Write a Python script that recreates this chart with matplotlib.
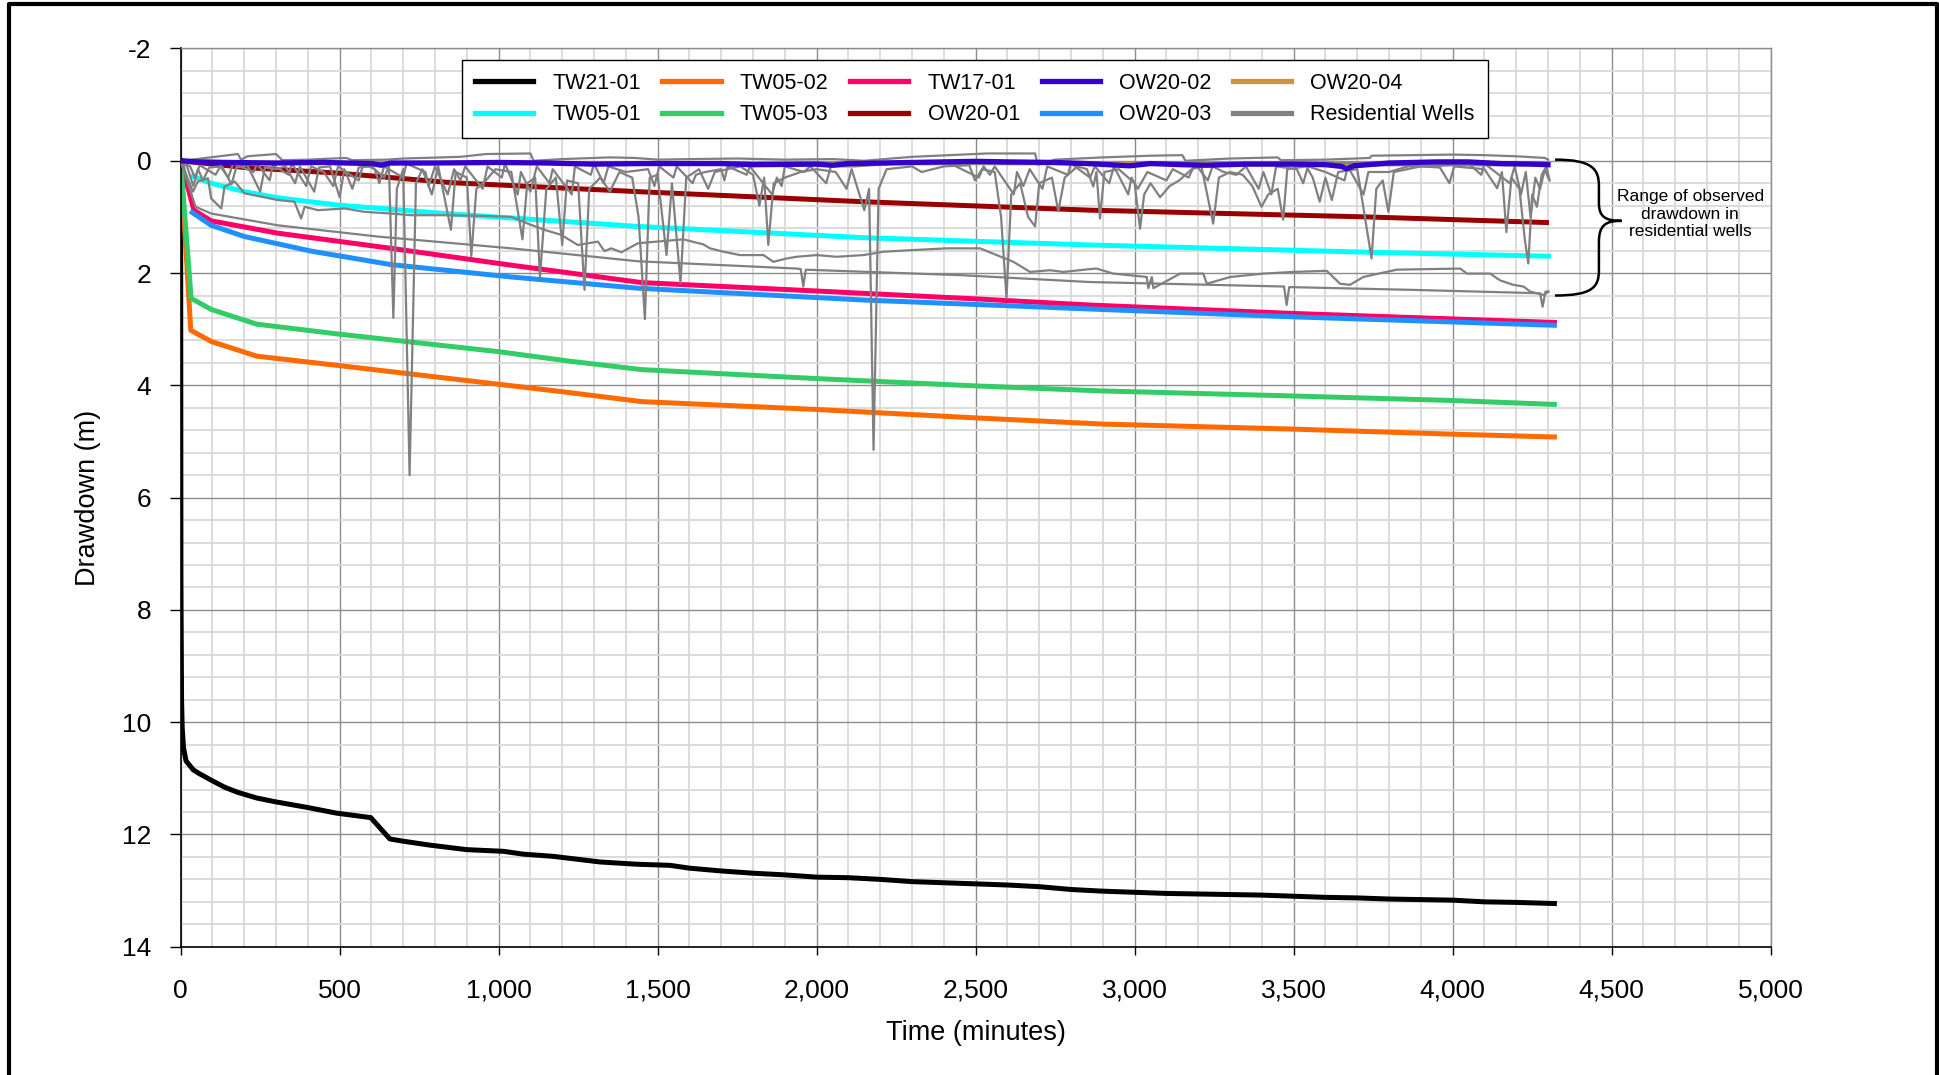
import numpy as np
import matplotlib
matplotlib.use("Agg")
import matplotlib.pyplot as plt
from matplotlib.lines import Line2D
from matplotlib.path import Path
from matplotlib.patches import PathPatch
from matplotlib.ticker import FuncFormatter, MultipleLocator

plt.rcParams["font.family"] = ["Liberation Sans", "DejaVu Sans"]

# ---------------- pumping test drawdown data (time in minutes, drawdown in m) ----------------
tw21_01_t = [0, 1, 3, 5, 9, 17, 40, 60, 92, 139, 180, 239, 300, 400, 490, 598, 658, 700, 784, 899,
             1015, 1077, 1172, 1319, 1434, 1539, 1600, 1700, 1800, 1900, 2000, 2100, 2200, 2300, 2400,
             2500, 2600, 2700, 2800, 2900, 3000, 3100, 3200, 3300, 3400, 3500, 3600, 3700, 3800, 3900,
             4000, 4100, 4200, 4320]
tw21_01_dd = [0, 7.5, 9.6, 10.1, 10.45, 10.69, 10.85, 10.92, 11.02, 11.16, 11.25, 11.35, 11.42, 11.52,
              11.62, 11.70, 12.08, 12.12, 12.19, 12.27, 12.30, 12.35, 12.39, 12.49, 12.53, 12.55, 12.60,
              12.65, 12.69, 12.72, 12.76, 12.77, 12.80, 12.84, 12.86, 12.88, 12.90, 12.93, 12.98, 13.01,
              13.03, 13.05, 13.06, 13.07, 13.08, 13.10, 13.12, 13.13, 13.15, 13.16, 13.17, 13.20, 13.21,
              13.23]

tw05_02_t = [0, 32, 97, 239, 501, 999, 1224, 1450, 2000, 2500, 2900, 3500, 4000, 4320]
tw05_02_dd = [0, 3.02, 3.22, 3.48, 3.65, 3.98, 4.13, 4.29, 4.43, 4.58, 4.69, 4.78, 4.87, 4.92]

tw05_03_t = [0, 33, 97, 239, 501, 999, 1224, 1450, 2000, 2500, 2900, 3500, 4000, 4320]
tw05_03_dd = [0, 2.45, 2.65, 2.91, 3.09, 3.40, 3.57, 3.72, 3.88, 4.01, 4.10, 4.19, 4.27, 4.34]

tw17_01_t = [0, 42, 96, 306, 662, 1040, 1450, 2000, 2500, 2860, 3500, 4320]
tw17_01_dd = [0, 0.88, 1.07, 1.29, 1.56, 1.86, 2.17, 2.32, 2.46, 2.57, 2.72, 2.88]

ow20_03_t = [36, 96, 201, 411, 662, 1040, 1438, 2147, 2859, 3500, 4320]
ow20_03_dd = [0.92, 1.15, 1.35, 1.61, 1.85, 2.07, 2.27, 2.48, 2.64, 2.78, 2.93]

tw05_01_t = [39, 96, 201, 306, 495, 830, 1438, 2147, 2859, 3740, 4301]
tw05_01_dd = [0.28, 0.40, 0.55, 0.66, 0.79, 0.94, 1.17, 1.37, 1.50, 1.63, 1.70]

ow20_01_t = [0, 201, 495, 851, 1438, 2147, 2859, 3729, 4295]
ow20_01_dd = [0, 0.12, 0.22, 0.39, 0.55, 0.73, 0.88, 1.00, 1.10]

ow20_02_t = [0, 50, 150, 300, 450, 600, 631, 660, 800, 1000, 1150, 1300, 1450, 1550, 1700, 1800, 2000,
             2050, 2100, 2300, 2500, 2600, 2750, 2850, 2985, 3050, 3150, 3227, 3350, 3500, 3600, 3650,
             3667, 3690, 3800, 3950, 4050, 4150, 4250, 4300]
ow20_02_dd = [0, 0.02, 0.03, 0.04, 0.03, 0.05, 0.08, 0.04, 0.04, 0.03, 0.04, 0.06, 0.05, 0.05, 0.05,
              0.07, 0.06, 0.08, 0.05, 0.03, 0.01, 0.02, 0.03, 0.05, 0.09, 0.05, 0.07, 0.08, 0.06, 0.06,
              0.07, 0.10, 0.14, 0.09, 0.04, 0.02, 0.02, 0.05, 0.06, 0.07]

ow20_04_t = [0, 300, 600, 1000, 1450, 2000, 2500, 2850, 3050, 3350, 3800, 4050, 4300]
ow20_04_dd = [0, 0.04, 0.05, 0.03, 0.05, 0.06, 0.01, 0.05, 0.05, 0.06, 0.04, 0.02, 0.07]

# ---------------- residential wells ----------------
rw_a_t = [0, 50, 180, 190, 210, 300, 320, 400, 520, 540, 650, 700, 880, 960, 1100, 1110, 1200, 1350,
          1430, 1500, 1600, 1750, 1900, 2050, 2150, 2300, 2535, 2687, 2695, 2750, 2900, 3050, 3150,
          3160, 3300, 3450, 3460, 3600, 3740, 3745, 4000, 4100, 4200, 4290, 4300]
rw_a_dd = [0, -0.03, -0.12, -0.02, -0.08, -0.12, -0.01, -0.02, -0.05, -0.01, -0.02, -0.04, -0.07,
           -0.12, -0.13, 0.0, -0.03, -0.06, -0.05, -0.02, -0.03, -0.04, -0.02, -0.03, 0.0, -0.07,
           -0.13, -0.13, 0.07, -0.02, -0.06, -0.09, -0.10, 0.0, -0.04, -0.06, -0.01, -0.02, -0.05,
           -0.09, -0.11, -0.10, -0.08, -0.05, -0.02]

rw_b_t = [0, 20, 40, 55, 70, 90, 130, 160, 175, 210, 250, 265, 300, 330, 360, 375, 420, 435, 470, 500,
          515, 540, 560, 600, 640, 655, 669, 680, 700, 720, 740, 760, 790, 810, 850, 865, 900, 914, 930,
          960, 990, 1040, 1075, 1090, 1115, 1130, 1150, 1180, 1200, 1215, 1250, 1270, 1285, 1320, 1350,
          1380, 1420, 1440, 1460, 1475, 1500, 1528, 1545, 1572, 1590, 1630, 1659, 1680, 1760, 1800,
          1820, 1835, 1848, 1865, 1900, 1950, 2000, 2060, 2094, 2110, 2150, 2165, 2179, 2195, 2220,
          2300, 2330, 2400, 2480, 2498, 2520, 2560, 2580, 2597, 2612, 2640, 2665, 2687, 2700, 2740,
          2760, 2780, 2820, 2850, 2870, 2880, 2891, 2905, 2950, 3000, 3017, 3030, 3050, 3080, 3110,
          3140, 3180, 3210, 3247, 3265, 3300, 3340, 3370, 3399, 3420, 3450, 3467, 3480, 3540, 3560,
          3582, 3600, 3620, 3640, 3700, 3745, 3760, 3780, 3798, 3815, 3900, 3960, 3990, 4005, 4100,
          4140, 4155, 4169, 4185, 4210, 4227, 4238, 4250, 4265, 4280, 4295, 4305]
rw_b_dd = [0, 0.10, 0.45, 0.15, 0.35, 0.12, 0.10, 0.42, 0.12, 0.08, 0.55, 0.12, 0.15, 0.10, 0.40,
           0.10, 0.55, 0.12, 0.10, 0.65, 0.15, 0.50, 0.12, 0.10, 0.30, 0.10, 2.80, 0.50, 0.15, 5.60,
           0.40, 0.15, 0.60, 0.10, 1.23, 0.20, 0.30, 1.70, 0.50, 0.35, 0.15, 0.20, 1.40, 0.40, 0.30,
           2.08, 0.50, 0.30, 1.50, 0.35, 0.40, 2.30, 0.50, 0.30, 0.55, 0.20, 0.30, 1.00, 2.82, 0.30,
           0.25, 1.68, 0.40, 2.18, 0.30, 0.15, 0.50, 0.20, 0.10, 0.25, 0.80, 0.30, 1.50, 0.40, 0.30,
           0.20, 0.15, 0.20, 0.50, 0.15, 0.88, 0.50, 5.15, 0.50, 0.15, 0.10, 0.20, 0.10, 0.08, 0.35,
           0.15, 0.20, 1.00, 2.45, 0.60, 0.40, 1.00, 1.17, 0.40, 0.30, 0.90, 0.30, 0.10, 0.15, 0.46,
           0.20, 1.03, 0.20, 0.15, 0.40, 1.21, 0.60, 0.40, 0.65, 0.45, 0.35, 0.15, 0.10, 1.12, 0.30,
           0.20, 0.25, 0.45, 0.82, 0.60, 0.50, 1.05, 0.15, 0.10, 0.30, 0.73, 0.30, 0.70, 0.20, 0.15,
           1.74, 0.50, 0.35, 0.91, 0.20, 0.10, 0.12, 0.40, 0.10, 0.15, 0.49, 0.20, 1.27, 0.30, 0.50,
           1.40, 1.83, 0.60, 0.82, 0.25, 0.10, 0.35]

rw_c_t = [0, 39, 54, 86, 96, 128, 138, 170, 201, 254, 306, 358, 379, 390, 432, 516, 578, 662, 725,
          830, 935, 1040, 1092, 1144, 1197, 1249, 1312, 1333, 1354, 1386, 1438, 1476, 1518, 1581,
          1644, 1665, 1707, 1759, 1833, 1864, 1906, 1937, 2000, 2063, 2147, 2210, 2304, 2409, 2514,
          2566, 2619, 2671, 2734, 2776, 2859, 2880, 2933, 3038, 3043, 3054, 3059, 3143, 3216, 3227,
          3301, 3405, 3499, 3604, 3646, 3677, 3719, 3824, 4024, 4045, 4118, 4149, 4191, 4223, 4244,
          4286, 4301]
rw_c_dd = [0, 0.55, 0.37, 0.31, 0.67, 0.85, 0.46, 0.37, 0.58, 0.64, 0.70, 0.73, 1.03, 0.82, 0.88,
           0.85, 0.91, 0.94, 0.97, 0.97, 0.98, 1.00, 1.12, 1.23, 1.32, 1.50, 1.44, 1.61, 1.56, 1.63,
           1.47, 1.45, 1.43, 1.40, 1.49, 1.56, 1.62, 1.68, 1.68, 1.80, 1.74, 1.71, 1.68, 1.71, 1.68,
           1.62, 1.59, 1.56, 1.56, 1.68, 1.80, 1.98, 1.95, 1.98, 1.93, 1.92, 2.01, 2.07, 2.27, 2.07,
           2.27, 2.01, 2.01, 2.19, 2.07, 2.01, 1.98, 1.96, 2.19, 2.21, 2.07, 1.94, 1.92, 2.01, 2.01,
           2.13, 2.21, 2.24, 2.33, 2.39, 2.33]

rw_d_t = [0, 47, 96, 306, 620, 1040, 1438, 1937, 1950, 1958, 1966, 2461, 2859, 3470, 3478, 3486,
          3876, 4275, 4283, 4292, 4301]
rw_d_dd = [0, 0.82, 0.94, 1.15, 1.35, 1.56, 1.79, 1.92, 1.93, 2.24, 1.94, 2.04, 2.16, 2.24, 2.57,
           2.25, 2.30, 2.36, 2.60, 2.33, 2.33]

rw_e_t = [0, 100, 1000, 2000, 3000, 3740, 3745, 4300]
rw_e_dd = [0, 0.03, 0.05, 0.06, 0.06, 0.04, 0.08, 0.08]

rw_f_t = [0, 30, 45, 60, 110, 125, 150, 165, 230, 240, 280, 290, 340, 350, 395, 410, 450, 480, 495,
          560, 575, 610, 625, 640, 700, 710, 770, 780, 800, 840, 860, 880, 895, 950, 965, 1010, 1020,
          1060, 1070, 1100, 1120, 1160, 1170, 1230, 1240, 1290, 1300, 1330, 1345, 1400, 1470, 1490,
          1505, 1550, 1560, 1610, 1620, 1650, 1700, 1710, 1720, 1780, 1790, 1860, 1875, 1890, 1900,
          1960, 1980, 2030, 2045, 2120, 2260, 2420, 2510, 2525, 2545, 2560, 2620, 2630, 2650, 2670,
          2710, 2725, 2790, 2800, 2860, 2875, 2920, 2935, 2980, 2990, 3010, 3040, 3100, 3120, 3170,
          3190, 3230, 3245, 3280, 3320, 3350, 3390, 3405, 3430, 3445, 3510, 3530, 3545, 3600, 3660,
          3670, 3720, 3735, 3800, 3860, 3930, 4050, 4090, 4100, 4180, 4195, 4215, 4230, 4245, 4260,
          4275, 4290, 4300]
rw_f_dd = [0, 0.10, 0.30, 0.08, 0.25, 0.10, 0.30, 0.05, 0.20, 0.05, 0.35, 0.08, 0.25, 0.05, 0.45,
           0.10, 0.20, 0.45, 0.10, 0.35, 0.05, 0.15, 0.40, 0.10, 0.30, 0.05, 0.20, 0.45, 0.10, 0.60,
           0.15, 0.35, 0.10, 0.50, 0.10, 0.30, 0.05, 0.60, 0.20, 0.55, 0.10, 0.40, 0.15, 0.60, 0.10,
           0.25, 0.05, 0.40, 0.10, 0.20, 0.15, 0.45, 0.10, 0.30, 0.10, 0.40, 0.25, 0.20, 0.15, 0.35,
           0.10, 0.25, 0.10, 0.60, 0.30, 0.45, 0.10, 0.20, 0.10, 0.40, 0.10, 0.10, 0.05, 0.05, 0.30,
           0.10, 0.25, 0.10, 0.60, 0.20, 0.45, 0.15, 0.50, 0.10, 0.25, 0.05, 0.30, 0.10, 0.40, 0.10,
           0.60, 0.30, 0.50, 0.20, 0.35, 0.15, 0.30, 0.05, 0.35, 0.10, 0.20, 0.25, 0.10, 0.50, 0.20,
           0.60, 0.10, 0.15, 0.40, 0.10, 0.20, 0.35, 0.10, 0.60, 0.20, 0.20, 0.10, 0.10, 0.05, 0.25,
           0.05, 0.40, 0.10, 0.60, 0.20, 1.00, 0.30, 0.50, 0.15, 0.30]

monitoring = [
    ("TW21-01", tw21_01_t, tw21_01_dd, "#000000"),
    ("TW05-02", tw05_02_t, tw05_02_dd, "#FF6A00"),
    ("TW17-01", tw17_01_t, tw17_01_dd, "#FF0066"),
    ("OW20-02", ow20_02_t, ow20_02_dd, "#3300CC"),
    ("OW20-04", ow20_04_t, ow20_04_dd, "#C8963C"),
    ("TW05-01", tw05_01_t, tw05_01_dd, "#00FFFF"),
    ("TW05-03", tw05_03_t, tw05_03_dd, "#33CC66"),
    ("OW20-01", ow20_01_t, ow20_01_dd, "#990000"),
    ("OW20-03", ow20_03_t, ow20_03_dd, "#1E90FF"),
]
residential = [(rw_a_t, rw_a_dd), (rw_b_t, rw_b_dd), (rw_c_t, rw_c_dd), (rw_d_t, rw_d_dd),
               (rw_e_t, rw_e_dd), (rw_f_t, rw_f_dd)]
rw_color = "#808080"

x_ticks = list(range(0, 5001, 500))
y_ticks = list(range(-2, 15, 2))

# ---------------- figure ----------------
fig = plt.figure(figsize=(19.4, 10.75), dpi=100)
ax = fig.add_axes([0.0931, 0.1193, 0.8196, 0.8356])

ax.set_xlim(0, 5000)
ax.set_ylim(14, -2)
ax.set_xticks(x_ticks)
ax.set_yticks(y_ticks)
ax.xaxis.set_minor_locator(MultipleLocator(100))
ax.yaxis.set_minor_locator(MultipleLocator(0.4))
ax.xaxis.set_major_formatter(FuncFormatter(lambda v, p: f"{int(v):,}"))
ax.yaxis.set_major_formatter(FuncFormatter(lambda v, p: f"{int(v)}"))
ax.set_axisbelow(True)
ax.grid(which="minor", color="#D9D9D9", lw=1.3)
ax.grid(which="major", color="#8C8C8C", lw=1.0)
ax.tick_params(which="minor", length=0)
ax.tick_params(axis="x", which="major", length=6, width=1, direction="out", pad=17,
               labelsize=19)
ax.tick_params(axis="y", which="major", length=8, width=1, direction="out", pad=13,
               labelsize=19)
for side in ("top", "right"):
    ax.spines[side].set_color("#8C8C8C")
    ax.spines[side].set_linewidth(1.0)
for side in ("left", "bottom"):
    ax.spines[side].set_color("#000000")
    ax.spines[side].set_linewidth(1.2)

# monitoring wells (all but OW20-02 under the residential traces)
for name, t, dd, col in monitoring:
    z, lw = 2, 3.6
    if name == "OW20-02":
        z, lw = 4, 3.8
    elif name == "OW20-04":
        z, lw = 1.9, 2.4
    ax.plot(t, dd, color=col, lw=lw, zorder=z, solid_joinstyle="round")

for t, dd in residential:
    ax.plot(t, dd, color=rw_color, lw=1.6, zorder=3)

# legend (row-wise order in a 5-column layout)
handles = {name: Line2D([], [], color=col, lw=3.8) for name, _, _, col in monitoring}
handles["Residential Wells"] = Line2D([], [], color=rw_color, lw=3.8)
order = ["TW21-01", "TW05-01", "TW05-02", "TW05-03", "TW17-01", "OW20-01",
         "OW20-02", "OW20-03", "OW20-04", "Residential Wells"]
leg = ax.legend([handles[k] for k in order], order, ncol=5, loc="upper center",
                bbox_to_anchor=(0.4995, 0.9875), borderaxespad=0, fontsize=15.5, frameon=True,
                fancybox=False, edgecolor="black", framealpha=1, handlelength=2.7,
                handletextpad=0.9, columnspacing=1.0, borderpad=0.6, labelspacing=0.5)
leg.get_frame().set_linewidth(1.0)
leg.set_zorder(10)

# brace marking the range of residential drawdown
brace_verts = [(4322, -0.02), (4440, -0.02), (4460, 0.15), (4460, 0.45),
               (4460, 0.75),
               (4460, 1.00), (4480, 1.07), (4531, 1.07),
               (4480, 1.07), (4460, 1.15), (4460, 1.45),
               (4460, 1.95),
               (4460, 2.25), (4440, 2.40), (4322, 2.40)]
brace_codes = [Path.MOVETO, Path.CURVE4, Path.CURVE4, Path.CURVE4,
               Path.LINETO,
               Path.CURVE4, Path.CURVE4, Path.CURVE4,
               Path.CURVE4, Path.CURVE4, Path.CURVE4,
               Path.LINETO,
               Path.CURVE4, Path.CURVE4, Path.CURVE4]
ax.add_patch(PathPatch(Path(brace_verts, brace_codes), facecolor="none", edgecolor="black",
                       lw=1.8, zorder=5))
ax.text(4747, 0.95, "Range of observed\ndrawdown in\nresidential wells", ha="center",
        va="center", fontsize=12.5, linespacing=1.2, zorder=5)

ax.set_xlabel("Time (minutes)", fontsize=19.5)
ax.set_ylabel("Drawdown (m)", fontsize=19.5)
ax.xaxis.set_label_coords(0.5, -0.081)
ax.yaxis.set_label_coords(-0.05, 0.5)

# outer frame
fig.add_artist(Line2D([0.0046, 0.0046, 0.9985, 0.9985], [-0.01, 0.9963, 0.9963, -0.01],
                      transform=fig.transFigure, color="black", lw=3.0))

fig.savefig("out.png", dpi=100)
